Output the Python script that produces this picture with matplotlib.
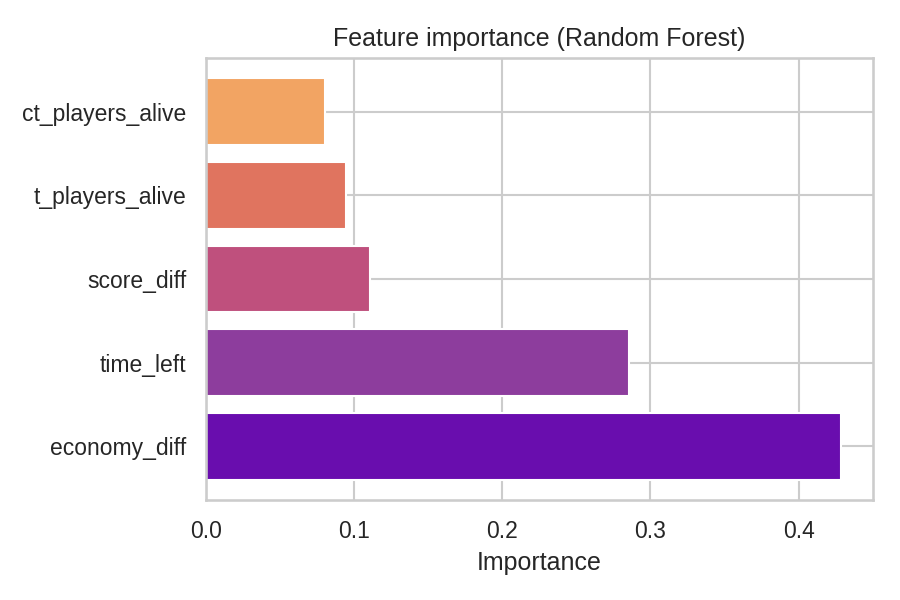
import matplotlib
matplotlib.use("Agg")
import matplotlib.pyplot as plt
import seaborn as sns

features = ["economy_diff", "time_left", "score_diff", "t_players_alive", "ct_players_alive"]
importance = [0.4288, 0.2858, 0.1104, 0.0944, 0.0801]
colors = ["#690dae", "#8d3d9d", "#bf507d", "#e0745f", "#f2a463"]

sns.set_theme(style="whitegrid")
plt.rcParams["font.family"] = ["Liberation Sans", "DejaVu Sans"]

fig, ax = plt.subplots(figsize=(6, 4), dpi=150)
ax.barh(features, importance, color=colors)
ax.set_title("Feature importance (Random Forest)")
ax.set_xlabel("Importance")
fig.subplots_adjust(left=0.229, right=0.970, bottom=0.1667, top=0.9033)
fig.savefig("out.png", dpi=150)
